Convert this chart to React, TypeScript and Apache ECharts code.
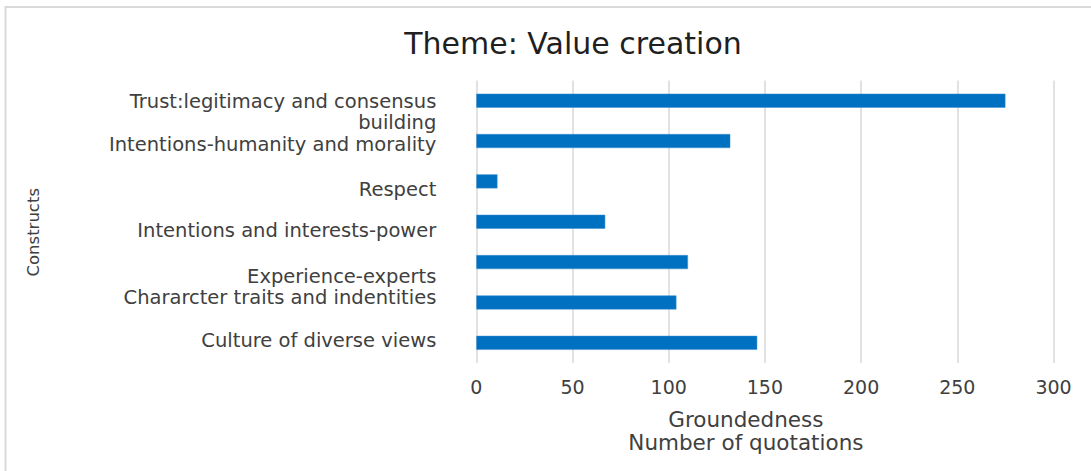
import React, { useEffect, useRef } from "react";
import * as echarts from "echarts";

const title = "Theme: Value creation";
const categories = [
  "Trust:legitimacy and consensus\nbuilding",
  "Intentions-humanity and morality",
  "Respect",
  "Intentions and interests-power",
  "Experience-experts",
  "Chararcter traits and indentities",
  "Culture of diverse views",
];
const values = [275, 132, 11, 67, 110, 104, 146];
const xTicks = [0, 50, 100, 150, 200, 250, 300];

// vertical nudge of each category label (px, + = down), as in the original picture
const labelNudge = [11, 3.5, 8, 9, 14, -5, -2];

const FONT = "'DejaVu Sans', sans-serif";
const LABEL_SIZE = 19.5;

export default function App() {
  const ref = useRef<HTMLDivElement>(null);
  useEffect(() => {
    if (!ref.current) return;
    const chart = echarts.init(ref.current, null, { renderer: "svg" });

    const rich: Record<string, any> = {};
    categories.forEach((c, i) => {
      const n = labelNudge[i];
      const pad = n >= 0 ? [2 * n, 0, 0, 0] : [0, 0, -2 * n, 0];
      const multi = c.includes("\n");
      rich["n" + i] = {
        fontFamily: FONT,
        fontSize: LABEL_SIZE,
        lineHeight: multi ? 21 : 18,
        color: "#404040",
        align: "right",
        padding: pad,
      };
    });

    chart.setOption({
      animation: false,
      backgroundColor: "#ffffff",
      graphic: [
        {
          type: "rect",
          shape: { x: 5.5, y: 7, width: 2000, height: 2000 },
          style: { fill: "none", stroke: "#d9d9d9", lineWidth: 2 },
          silent: true,
        },
        {
          type: "text",
          x: 573,
          y: 43,
          style: {
            text: title,
            align: "center",
            verticalAlign: "middle",
            fontFamily: FONT,
            fontSize: 30,
            fill: "#1f1f1f",
          },
          silent: true,
        },
      ],
      grid: { left: 476.3, right: 37.5, top: 80.5, bottom: 108, containLabel: false },
      xAxis: {
        type: "value",
        min: 0,
        max: 300,
        interval: 50,
        axisLine: { show: false },
        axisTick: { show: false },
        splitLine: { show: true, lineStyle: { color: "#d9d9d9", width: 1.5 } },
        axisLabel: {
          margin: 14,
          fontFamily: FONT,
          fontSize: 19,
          color: "#404040",
          formatter: (v: number) => (xTicks.includes(v) ? String(v) : ""),
        },
        name: "Groundedness\nNumber of quotations",
        nameLocation: "middle",
        nameGap: 45,
        nameTextStyle: {
          fontFamily: FONT,
          fontSize: 21.5,
          color: "#404040",
          lineHeight: 23,
          padding: [0, 38, 0, 0],
        },
      },
      yAxis: {
        type: "category",
        inverse: true,
        data: categories,
        axisLine: { show: false },
        axisTick: { show: false },
        axisLabel: {
          interval: 0,
          hideOverlap: false,
          margin: 40,
          fontFamily: FONT,
          fontSize: LABEL_SIZE,
          color: "#404040",
          align: "right",
          rich,
          formatter: (v: string) => {
            const i = categories.indexOf(v);
            return v
              .split("\n")
              .map((p) => "{n" + i + "|" + p + "}")
              .join("\n");
          },
        },
        name: "Constructs",
        nameLocation: "middle",
        nameRotate: 90,
        nameGap: 434,
        nameTextStyle: {
          fontFamily: FONT,
          fontSize: 16.5,
          color: "#404040",
          padding: [0, 21, 0, 0],
        },
      },
      series: [
        {
          type: "bar",
          data: values,
          barWidth: 14,
          itemStyle: { color: "#0070c0", borderColor: "#3d8fd0", borderWidth: 0.5 },
        },
      ],
    });
    return () => chart.dispose();
  }, []);
  return (
    <div
      ref={ref}
      style={{ position: "fixed", left: 0, top: 0, width: 1091, height: 471, overflow: "hidden" }}
    />
  );
}
